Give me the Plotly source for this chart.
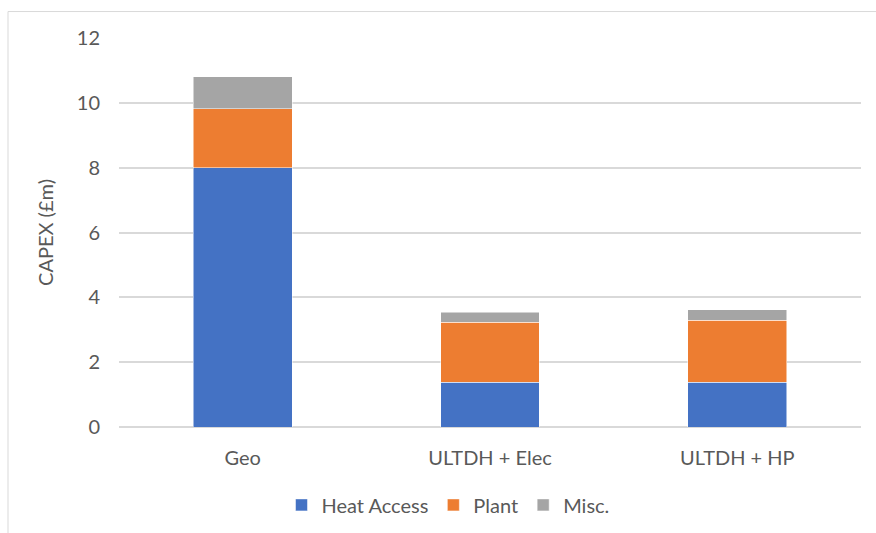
import plotly.graph_objects as go

# CAPEX breakdown by scheme (£m)
categories = ["Geo", "ULTDH + Elec", "ULTDH + HP"]
heat_access = [8.0, 1.38, 1.38]
plant = [1.82, 1.85, 1.92]
misc = [0.98, 0.31, 0.31]
y_ticks = [0, 2, 4, 6, 8, 10, 12]

W, H = 876, 533
L, R, T, B = 119, 15, 37.5, 106
FONT = "Lato"
FS = 20
TXT = "#595959"
GRID = "#d9d9d9"

fig = go.Figure()
for name, vals, col in [("Heat Access", heat_access, "#4472C4"),
                        ("Plant", plant, "#ED7D31"),
                        ("Misc.", misc, "#A5A5A5")]:
    fig.add_trace(go.Bar(x=categories, y=vals, name=name,
                         marker=dict(color=col, line=dict(color="white", width=0.5))))

pw = W - L - R
ph = H - T - B
fig.update_layout(
    width=W, height=H,
    barmode="stack", bargap=0.6,
    margin=dict(l=L, r=R, t=T, b=B, autoexpand=False),
    paper_bgcolor="white", plot_bgcolor="white",
    font=dict(family=FONT, size=FS, color=TXT),
    legend=dict(orientation="h", traceorder="normal",
                x=0.5 - (490 - 448) / pw, xanchor="center",
                y=-(505 - (T + ph)) / ph, yanchor="middle",
                font=dict(size=FS, color=TXT), itemwidth=30),
    xaxis=dict(showgrid=False, showline=False, ticks="outside", ticklen=0,
               ticklabelstandoff=13, tickfont=dict(size=FS, color=TXT)),
    yaxis=dict(range=[0, 12], tickvals=y_ticks, showgrid=True, gridcolor=GRID,
               gridwidth=1.5, zeroline=True, zerolinecolor=GRID, zerolinewidth=1.5,
               ticklabelstandoff=18, tickfont=dict(size=FS, color=TXT),
               title=dict(text="CAPEX (£m)", font=dict(size=FS, color=TXT), standoff=17)),
)

# outer chart frame (left and top edges)
fx = (8 - L) / pw
fy = (T + ph - 11) / ph
fig.add_shape(type="line", xref="paper", yref="paper", x0=fx, x1=fx, y0=fy, y1=-1,
              line=dict(color=GRID, width=1))
fig.add_shape(type="line", xref="paper", yref="paper", x0=fx, x1=1.2, y0=fy, y1=fy,
              line=dict(color=GRID, width=1))

fig.write_html("out.html")
